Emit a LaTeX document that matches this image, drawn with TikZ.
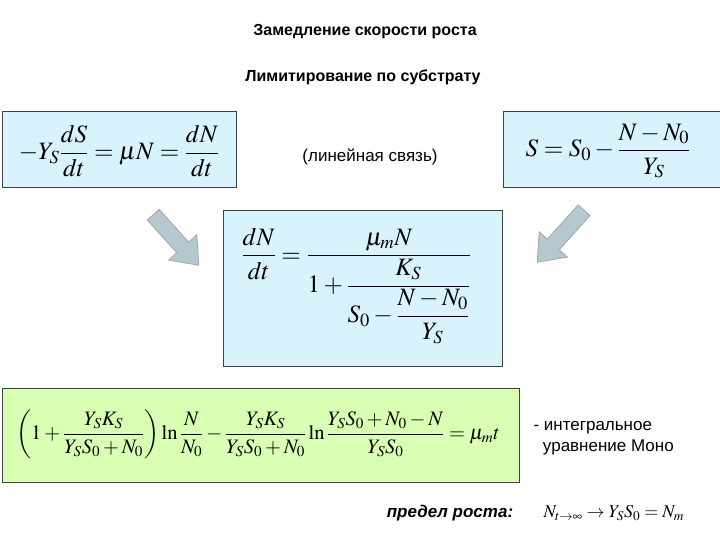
\documentclass[tikz,border=0pt]{standalone}
\usepackage{amsmath}
\usepackage{mathptmx}
\usepackage{fontspec}
\setmainfont{Liberation Sans}
\begin{document}
\begin{tikzpicture}[x=1pt,y=-1pt,
  cbox/.style={draw=black!75,line width=1pt,fill=cyan!15},
  gbox/.style={draw=black!75,line width=1pt,fill=green!50!yellow!30},
  lbl/.style={font=\fontsize{16}{19}\selectfont\bfseries},
  eq/.style={font=\fontsize{25}{29}\selectfont},
  barrow/.style={draw=gray!70,fill=cyan!25!gray!55,line width=0.8pt}]
\useasboundingbox (0,0) rectangle (720,540);
\node[lbl] (t1) at (365,32) {Замедление скорости роста};
\node[lbl] (t2) at (363,77) {Лимитирование по субстрату};
\draw[cbox] (2,112) rectangle (236,188);
\draw[cbox] (503,112) rectangle (722,188);
\draw[cbox] (223,211) rectangle (502,366);
\draw[gbox] (2,388) rectangle (519,482);
\node[eq] (e1) at (119,151) {$-Y_S\dfrac{dS}{dt}=\mu N=\dfrac{dN}{dt}$};
\node[eq] (e2) at (608,151) {$S=S_0-\dfrac{N-N_0}{Y_S}$};
\node[font=\fontsize{17}{20}\selectfont] (lin) at (370,157) {(линейная связь)};
\node[eq,anchor=west] (e3) at (238,286) {$\dfrac{dN}{dt}=\dfrac{\mu_m N}{1+\dfrac{K_S}{S_0-\dfrac{N-N_0}{Y_S}}}$};
\node[font=\fontsize{20.5}{24}\selectfont] (e4) at (258,434) {$\left(1+\dfrac{Y_SK_S}{Y_SS_0+N_0}\right)\ln\dfrac{N}{N_0}-\dfrac{Y_SK_S}{Y_SS_0+N_0}\ln\dfrac{Y_SS_0+N_0-N}{Y_SS_0}=\mu_m t$};
\node[font=\fontsize{17}{20}\selectfont,anchor=west,align=left] (mono) at (530,438) {- интегральное\\[1pt]\ \ уравнение Моно};
\node[font=\fontsize{17}{20}\selectfont\bfseries\itshape] (lim) at (450,513) {предел роста:};
\node[font=\fontsize{18}{21}\selectfont,anchor=west] (e5) at (540,513) {$N_{t\to\infty}\to Y_SS_0=N_m$};
\begin{scope}[shift={(176,240)},rotate=-48]
\draw[barrow] (-34,-8) -- (10,-8) -- (10,-19) -- (34,0) -- (10,19) -- (10,8) -- (-34,8) -- cycle;
\end{scope}
\begin{scope}[shift={(560,237)},rotate=-132]
\draw[barrow] (-36,-8) -- (10,-8) -- (10,-19) -- (34,0) -- (10,19) -- (10,8) -- (-36,8) -- cycle;
\end{scope}
\end{tikzpicture}
\end{document}
